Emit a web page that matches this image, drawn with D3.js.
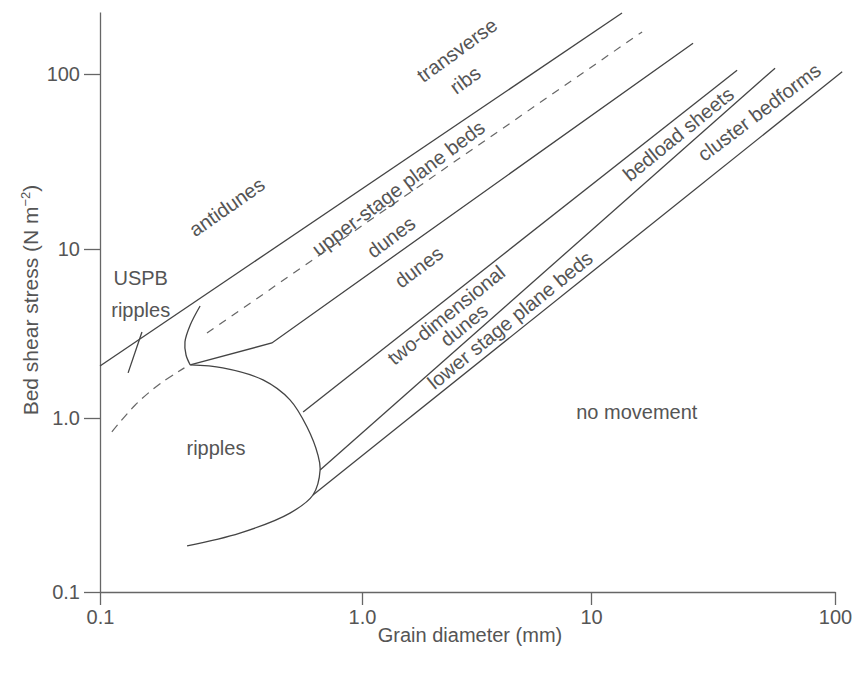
<!DOCTYPE html>
<html>
<head>
<meta charset="utf-8">
<script src="https://cdn.jsdelivr.net/npm/d3@7"></script>
<style>
body { margin: 0; background: #fff; }
text { font-family: "Liberation Sans", Arial, sans-serif; fill: #555; }
</style>
</head>
<body>
<script>
var width = 857,
    height = 673;

// tick values and their printed labels (same on both axes)
var tickValues = [0.1, 1, 10, 100];
var tickLabels = ["0.1", "1.0", "10", "100"];

// phase boundaries as [grain diameter (mm), bed shear stress (N m-2)]
var upperLine = [[0.1, 2.03], [13.4, 223]];
var dashedUpper = [[0.256, 3.18], [16.2, 174]];
var hookCurve = [[0.241, 4.6], [0.221, 3.55], [0.211, 2.82], [0.213, 2.36], [0.221, 2.06]];
var dunesLine = [[0.221, 2.06], [0.453, 2.78], [26.2, 150]];
var rippleCurve = [[0.221, 2.06], [0.294, 1.98], [0.419, 1.68], [0.531, 1.28], [0.617, 0.887],
                   [0.679, 0.612], [0.692, 0.502], [0.650, 0.361], [0.531, 0.284], [0.342, 0.218], [0.215, 0.184]];
var twoDLine = [[0.596, 1.085], [39.7, 105]];
var sheetLine = [[0.692, 0.502], [56.8, 108]];
var clusterLine = [[0.650, 0.361], [107, 103]];
var dashedLower = [[0.111, 0.832], [0.136, 1.19], [0.169, 1.59], [0.21, 1.98]];
var uspbTick = [[0.1446, 3.23], [0.128, 1.85]];

// region names
var labels = [
  {t: "transverse", x: 2.60, y: 137, a: -36},
  {t: "ribs", x: 2.82, y: 92.5, a: -36},
  {t: "antidunes", x: 0.305, y: 17.4, a: -35},
  {t: "upper-stage plane beds", x: 1.44, y: 22.3, a: -37},
  {t: "dunes", x: 1.34, y: 11.7, a: -37},
  {t: "dunes", x: 1.77, y: 7.82, a: -37},
  {t: "two-dimensional", x: 2.33, y: 4.07, a: -39},
  {t: "dunes", x: 2.79, y: 3.55, a: -39},
  {t: "lower stage plane beds", x: 4.43, y: 3.80, a: -39},
  {t: "bedload sheets", x: 22.8, y: 45.4, a: -39},
  {t: "cluster bedforms", x: 48.9, y: 60.6, a: -37},
  {t: "no movement", x: 15.4, y: 1.086, a: 0},
  {t: "ripples", x: 0.277, y: 0.673, a: 0},
  {t: "USPB", x: 0.143, y: 6.74, a: 0},
  {t: "ripples", x: 0.143, y: 4.35, a: 0}
];

var svg = d3.select("body").append("svg")
    .attr("width", width)
    .attr("height", height);

// the hand drawn decades are not quite even, so the scales are piecewise
var x = d3.scaleLog()
    .domain([0.1, 1, 10, 100])
    .range([100, 362, 591, 835]);

var y = d3.scaleLog()
    .domain([0.1, 1, 10, 100, 226])
    .range([592, 418, 249, 74, 12]);

var fmt = function (d) { return tickLabels[tickValues.indexOf(d)]; };

svg.append("g")
    .attr("transform", "translate(0," + y(0.1) + ")")
    .call(d3.axisBottom(x).tickValues(tickValues).tickFormat(fmt)
      .tickSize(13).tickSizeOuter(0).tickPadding(5));

svg.append("g")
    .attr("transform", "translate(" + x(0.1) + ",0)")
    .call(d3.axisLeft(y).tickValues(tickValues).tickFormat(fmt)
      .tickSize(16).tickSizeOuter(0).tickPadding(4));

svg.selectAll(".domain, .tick line")
    .attr("stroke", "#666")
    .attr("stroke-width", 1.3);

svg.selectAll(".tick text")
    .attr("fill", "#555")
    .style("font-size", "20px")
    .style("font-family", "Liberation Sans, Arial, sans-serif");

// axis titles
svg.append("text")
    .attr("x", 470)
    .attr("y", 642)
    .attr("text-anchor", "middle")
    .style("font-size", "20px")
    .text("Grain diameter (mm)");

var yTitle = svg.append("text")
    .attr("transform", "translate(38,300) rotate(-90)")
    .attr("text-anchor", "middle")
    .style("font-size", "21px");
yTitle.append("tspan").text("Bed shear stress (N m");
yTitle.append("tspan").attr("dy", -8).style("font-size", "13px").text("\u22122");
yTitle.append("tspan").attr("dy", 8).text(")");

var straight = d3.line()
    .x(function (d) { return x(d[0]); })
    .y(function (d) { return y(d[1]); });

var smooth = d3.line()
    .x(function (d) { return x(d[0]); })
    .y(function (d) { return y(d[1]); })
    .curve(d3.curveCatmullRom);

var solid = [upperLine, dunesLine, twoDLine, sheetLine, clusterLine, uspbTick];
svg.selectAll("path.solid")
    .data(solid)
    .enter().append("path")
    .attr("class", "solid")
    .attr("d", straight)
    .attr("fill", "none")
    .attr("stroke", "#444")
    .attr("stroke-width", 1.3);

svg.selectAll("path.curve")
    .data([hookCurve, rippleCurve])
    .enter().append("path")
    .attr("class", "curve")
    .attr("d", smooth)
    .attr("fill", "none")
    .attr("stroke", "#444")
    .attr("stroke-width", 1.3);

svg.append("path")
    .datum(dashedUpper)
    .attr("d", straight)
    .attr("fill", "none")
    .attr("stroke", "#666")
    .attr("stroke-width", 1.2)
    .attr("stroke-dasharray", "8,7");

svg.append("path")
    .datum(dashedLower)
    .attr("d", smooth)
    .attr("fill", "none")
    .attr("stroke", "#666")
    .attr("stroke-width", 1.2)
    .attr("stroke-dasharray", "9,6");

svg.selectAll("text.region")
    .data(labels)
    .enter().append("text")
    .attr("class", "region")
    .attr("transform", function (d) {
      return "translate(" + x(d.x) + "," + y(d.y) + ") rotate(" + d.a + ")";
    })
    .attr("text-anchor", "middle")
    .attr("dominant-baseline", "central")
    .style("font-size", "20px")
    .text(function (d) { return d.t; });
</script>
</body>
</html>
